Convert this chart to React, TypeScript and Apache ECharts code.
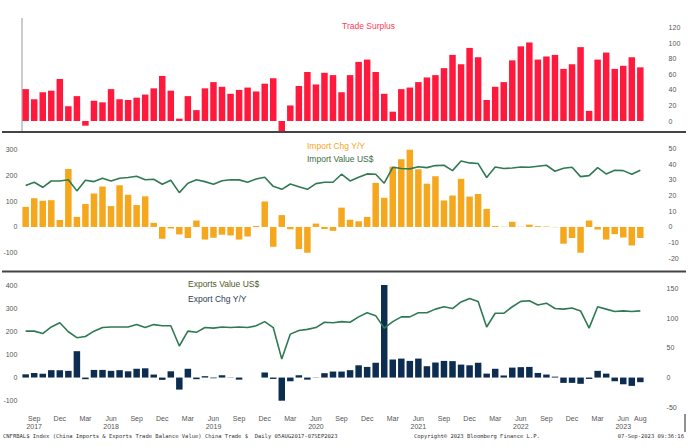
import { useEffect, useRef } from "react"
import * as echarts from "echarts"

const monthNames = ["Jan", "Feb", "Mar", "Apr", "May", "Jun", "Jul", "Aug", "Sep", "Oct", "Nov", "Dec"]
// Aug 2017 .. Aug 2023
const categories: string[] = []
for (let y = 2017, m = 7; y < 2023 || m <= 7; m++) {
  if (m > 11) { m = 0; y++ }
  categories.push(`${monthNames[m]} ${y}`)
}

const tradeSurplus = [
  41, 28, 37, 39, 54, 19, 32, -6, 26, 24, 41, 28, 27, 30, 34, 42, 58, 39, 3, 32, 14, 42, 50, 44, 35, 40, 43, 38, 48, 55,
  -13, 20, 45, 63, 47, 62, 59, 37, 59,
  76, 79, 63, 35, 12, 41, 43, 50, 56, 59, 68, 85, 73, 94, 82, 27, 44, 50, 78, 96, 101, 79, 83, 85, 67, 73, 95, 13, 79, 88,
  67, 71, 82, 69,
]

const importChg = [
  78, 111, 102, 104, 27, 225, 39, 89, 130, 157, 81, 162, 125, 85, 119, 16, -46, -6, -29, -43, 25, -49, -42, -30, -33, -49,
  -37, 4, 99, -77, 46, -9, -86, -100, 13, -8, -15, 75, 28,
  22, 39, 171, 113, 234, 263, 314, 224, 168, 197, 103, 122, 187, 118, 128, 70, 4, 1, 20, 1, 9, 3, 2, -1, -65, -43, -124,
  25, -10, -49, -28, -41, -72, -43,
]

const importValue = [
  26.3, 28.4, 25.2, 29.2, 29.2, 30, 22.9, 29.7, 28.8, 30.9, 29.2, 30.9, 31.4, 32.2, 30, 30.3, 27.1, 29.7, 21.8, 27.8, 30,
  28.8, 27.1, 29.4, 30, 29.9, 28.4, 30.5, 31.6, 25.8, 23.9, 27.3, 25.6, 23.9, 27.5, 28.4, 28.4, 33.5, 29.2,
  31.6, 33.7, 33.5, 27.8, 37.9, 37.1, 36.9, 38.3, 37.7, 39, 39.2, 35.8, 41.9, 40.7, 40.3, 31.4, 38.1, 37.1, 37.5, 38.1,
  37.9, 38.6, 39.2, 35.4, 37.3, 37.9, 32, 32.6, 37.7, 33.7, 36, 35.8, 33.5, 36,
]

const exportChg = [
  14, 20, 16, 32, 32, 29, 114, -7, 33, 33, 29, 32, 27, 38, 40, 13, -10, 27, -52, 38, -7, 6, -3, 10, 1, -9, 0, 0, 22, -6,
  -103, -16, 10, -9, -1, 19, 26, 26, 32,
  53, 46, 64, 400, 78, 82, 72, 82, 49, 65, 72, 71, 56, 53, 64, 17, 38, 9, 43, 45, 46, 20, 13, 4, -23, -23, -27, -6, 29,
  17, -16, -29, -36, -20,
]

const exportValue = [
  78, 78, 74, 85, 92, 77, 67, 69, 78, 84, 85, 85, 85, 89, 84, 89, 87, 87, 53, 78, 76, 84, 83, 85, 84, 85, 84, 87, 94, 84,
  31, 73, 79, 81, 84, 93, 92, 94, 93,
  102, 109, 104, 83, 94, 102, 102, 109, 109, 115, 119, 116, 127, 133, 128, 85, 108, 108, 119, 128, 129, 122, 125, 116,
  115, 117, 112, 83, 119, 115, 111, 112, 111, 112,
]

const labelFont = { fontFamily: "Liberation Sans", fontSize: 7, color: "#555" }

export default function App() {
  const ref = useRef<HTMLDivElement>(null)

  useEffect(() => {
    if (!ref.current) return
    const chart = echarts.init(ref.current, undefined, { renderer: "svg" })
    const L = 21.4
    const R = 55.4
    const hiddenX = (gridIndex: number) => ({
      type: "category" as const,
      gridIndex,
      data: categories,
      show: false,
    })
    const lastIdx = categories.length - 1
    const bar = (name: string, data: number[], idx: number, color: string) => ({
      name,
      type: "bar" as const,
      xAxisIndex: idx,
      yAxisIndex: idx,
      data,
      barWidth: "76%",
      itemStyle: { color },
    })
    const line = (name: string, data: number[], idx: number) => ({
      name,
      type: "line" as const,
      xAxisIndex: idx,
      yAxisIndex: idx,
      data,
      symbol: "none",
      lineStyle: { color: "#2f7a52", width: 1.6 },
    })

    chart.setOption({
      animation: false,
      grid: [
        { left: L, right: R, top: 27.7, height: 108.85 },
        { left: L, right: R, top: 149.7, height: 103 },
        { left: L, right: R, top: 148.3, height: 110 },
        { left: L, right: R, top: 285, height: 115.7 },
        { left: L, right: R, top: 288.3, height: 119 },
      ],
      xAxis: [
        hiddenX(0),
        hiddenX(1),
        hiddenX(2),
        hiddenX(3),
        {
          type: "category",
          gridIndex: 4,
          data: categories,
          axisLine: { show: false },
          axisTick: { show: false },
          axisLabel: {
            interval: (i: number) => (i - 1) % 3 === 0 || i === lastIdx,
            margin: 7,
            formatter: (v: string, i: number) => {
              const [m, y] = v.split(" ")
              if (m === "Jun" || i === 1) return `${m}\n${y}`
              return m
            },
            ...labelFont,
            lineHeight: 8,
            verticalAlign: "top",
          },
        },
      ],
      yAxis: [
        {
          gridIndex: 0, position: "right", min: -20, max: 120, interval: 20,
          splitLine: { show: false }, axisLine: { show: false },
          axisLabel: { ...labelFont, align: "left", margin: 24, formatter: (v: number) => (v < 0 ? "" : String(v)) },
        },
        {
          gridIndex: 1, position: "left", min: -100, max: 300, interval: 100,
          splitLine: { show: false }, axisLine: { show: false },
          axisLabel: { ...labelFont, margin: 4 },
        },
        {
          gridIndex: 2, position: "right", min: -20, max: 50, interval: 10,
          splitLine: { show: false }, axisLine: { show: false },
          axisLabel: { ...labelFont, align: "left", margin: 24 },
        },
        {
          gridIndex: 3, position: "left", min: -100, max: 400, interval: 100,
          splitLine: { show: false }, axisLine: { show: false },
          axisLabel: { ...labelFont, margin: 4 },
        },
        {
          gridIndex: 4, position: "right", min: -50, max: 150, interval: 50,
          splitLine: { show: false }, axisLine: { show: false },
          axisLabel: { ...labelFont, align: "left", margin: 22 },
        },
      ],
      series: [
        bar("Trade Surplus", tradeSurplus, 0, "#ff1a3d"),
        bar("Import Chg Y/Y", importChg, 1, "#f5a81e"),
        line("Import Value US$", importValue, 2),
        bar("Export Chg Y/Y", exportChg, 3, "#0d2d50"),
        line("Exports Value US$", exportValue, 4),
      ],
      graphic: [
        { type: "line", shape: { x1: 22, y1: 18, x2: 22, y2: 131 }, style: { stroke: "#999", lineWidth: 1 } },
        { type: "line", shape: { x1: 2, y1: 132, x2: 686, y2: 132 }, style: { stroke: "#444", lineWidth: 2 } },
        { type: "line", shape: { x1: 2, y1: 271.5, x2: 686, y2: 271.5 }, style: { stroke: "#444", lineWidth: 2 } },
        { type: "line", shape: { x1: 685, y1: 414, x2: 685, y2: 432 }, style: { stroke: "#222", lineWidth: 1 } },
        { type: "text", x: 342, y: 26, style: { text: "Trade Surplus", fill: "#ff3b55", font: "8.5px 'Liberation Sans'", verticalAlign: "middle" } },
        { type: "text", x: 307, y: 145.5, style: { text: "Import Chg Y/Y", fill: "#f5a623", font: "8.5px 'Liberation Sans'", verticalAlign: "middle" } },
        { type: "text", x: 307, y: 158.5, style: { text: "Import Value US$", fill: "#3d6b3f", font: "8.5px 'Liberation Sans'", verticalAlign: "middle" } },
        { type: "text", x: 188, y: 283.7, style: { text: "Exports Value US$", fill: "#4f5a2a", font: "8.5px 'Liberation Sans'", verticalAlign: "middle" } },
        { type: "text", x: 188, y: 299.3, style: { text: "Export Chg Y/Y", fill: "#2c3e55", font: "8.5px 'Liberation Sans'", verticalAlign: "middle" } },
        { type: "text", x: 3, y: 435.5, style: { text: "CNFRBAL$ Index (China Imports & Exports Trade Balance Value) China Trade $  Daily 05AUG2017-07SEP2023", fill: "#333", font: "5.5px 'DejaVu Sans Mono'", verticalAlign: "middle" } },
        { type: "text", x: 414, y: 435.5, style: { text: "Copyright© 2023 Bloomberg Finance L.P.", fill: "#333", font: "5.5px 'DejaVu Sans Mono'", verticalAlign: "middle" } },
        { type: "text", x: 684, y: 435.5, style: { text: "07-Sep-2023 09:36:16", fill: "#333", font: "5.5px 'DejaVu Sans Mono'", verticalAlign: "middle", align: "right" } },
      ],
    })
    return () => chart.dispose()
  }, [])

  return <div ref={ref} style={{ width: 700, height: 447, position: "absolute", left: 0, top: 0 }} />
}
